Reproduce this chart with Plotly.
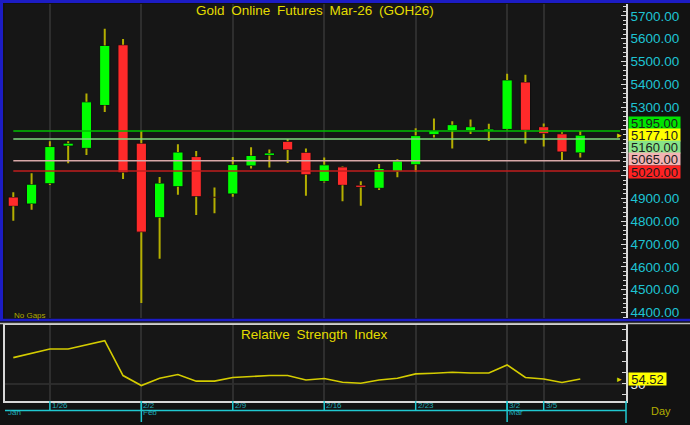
import plotly.graph_objects as go

# ---------------- data ----------------
opens = [4906, 4875, 4964, 5129, 5119, 5307, 5573, 5142, 4815, 4951, 5083, 4907, 4919, 5042, 5088, 5150,
         5102, 4974, 5038, 4958, 4944, 5018, 5047, 5179, 5197, 5197, 5195, 5202, 5410, 5214, 5183, 5099]
highs = [4927, 5010, 5150, 5150, 5359, 5643, 5598, 5195, 4994, 5137, 5108, 4948, 5081, 5124, 5114, 5160,
         5119, 5079, 5041, 4975, 5050, 5071, 5207, 5250, 5238, 5246, 5227, 5446, 5442, 5228, 5190, 5195]
lows = [4802, 4850, 4959, 5054, 5090, 5278, 4985, 4442, 4635, 4916, 4827, 4835, 4907, 5031, 5035, 5055,
        4911, 4970, 4887, 4868, 4937, 4992, 5016, 5167, 5118, 5182, 5151, 5198, 5140, 5127, 5067, 5079]
closes = [4865, 4962, 5127, 5142, 5323, 5570, 5012, 4752, 4967, 5103, 4907, 4903, 5048, 5088, 5099, 5112,
          5003, 5047, 4957, 4948, 5031, 5064, 5175, 5197, 5223, 5214, 5204, 5419, 5198, 5183, 5103, 5177.10]
rsi = [74.0, 78.0, 81.8, 81.8, 85.5, 89.5, 57.6, 48.5, 55.2, 58.5, 52.5, 52.5, 55.8, 57.0, 57.6, 57.6,
       53.6, 54.9, 51.5, 50.6, 53.6, 55.2, 59.1, 59.7, 60.6, 60.0, 60.0, 67.3, 55.8, 54.5, 51.3, 54.52]

week_labels = ["1/26", "2/2", "2/9", "2/16", "2/23", "3/2", "3/5"]
week_bars = [2, 7, 12, 17, 22, 27, 29]
month_labels = ["Jan", "Feb", "Mar"]
month_bars = [0, 7, 27]

level_values = [5195, 5160, 5065, 5020]
level_colors = ["#00c000", "#7fd87f", "#d8a8a8", "#c01e1e"]
box_values = [5195, closes[-1], 5160, 5065, 5020]
box_colors = ["#00e400", "#ffff00", "#88e488", "#f2b4b4", "#ff2222"]

price_ticks = list(range(4400, 5701, 100))
hidden_price_labels = [5000, 5100, 5200]   # covered by the value boxes in the reference
rsi_ticks = list(range(40, 101, 10))

# ---------------- helpers ----------------
W, H = 690, 425


def py(p):
    return 1 - p / H


def pxx(p):
    return p / W


bars = list(range(len(closes)))
fig = go.Figure()

# bodies
base = [min(o, c) for o, c in zip(opens, closes)]
height = [max(abs(c - o), 4) for o, c in zip(opens, closes)]
colors = ["#00ff00" if c >= o else "#ff2a2a" for o, c in zip(opens, closes)]
fig.add_trace(go.Bar(x=bars, y=height, base=base, width=0.56,
                     marker=dict(color=colors, line=dict(color="#101010", width=1)),
                     xaxis="x", yaxis="y", hoverinfo="skip", showlegend=False))

# wicks (upper and lower segments, outside the bodies)
wx, wy = [], []
for i, (o, h, l, c) in enumerate(zip(opens, highs, lows, closes)):
    top, bot = max(o, c), min(o, c)
    if h > top:
        wx += [i, i, None]
        wy += [h, top, None]
    if l < bot:
        wx += [i, i, None]
        wy += [bot, l, None]
fig.add_trace(go.Scatter(x=wx, y=wy, mode="lines", line=dict(color="#b4ae00", width=2),
                         xaxis="x", yaxis="y", hoverinfo="skip", showlegend=False))

# RSI
fig.add_trace(go.Scatter(x=bars, y=rsi, mode="lines", line=dict(color="#d4cc00", width=1.6),
                         xaxis="x2", yaxis="y2", hoverinfo="skip", showlegend=False))

xr = [-0.454, 33.5]
dom_x = [pxx(5), pxx(626)]
grid_c = "#2e2e2e"
axis_c = "#d8d8d8"
cyan = "#1ec4d4"
FONT = "Arial, Liberation Sans"

fig.update_layout(
    width=W, height=H, autosize=False,
    margin=dict(l=0, r=0, t=0, b=0),
    paper_bgcolor="#121212", plot_bgcolor="#161616",
    showlegend=False,
    font=dict(family=FONT, color=cyan),
    xaxis=dict(domain=dom_x, range=xr, anchor="y", tickmode="array", tickvals=week_bars,
               showticklabels=False, showgrid=True, gridcolor=grid_c, gridwidth=1.5,
               zeroline=False, showline=False, ticks=""),
    xaxis2=dict(domain=dom_x, range=xr, anchor="y2", matches="x", tickmode="array", tickvals=week_bars,
                showticklabels=False, showgrid=True, gridcolor=grid_c, gridwidth=1.5,
                zeroline=False, showline=True, linecolor=axis_c, linewidth=1.5, mirror=True, ticks=""),
    yaxis=dict(domain=[py(320), py(4)], range=[4373.6, 5751.7], anchor="x", side="right",
               tickmode="array", tickvals=price_ticks,
               ticktext=["" if v in hidden_price_labels else f"{v:.2f}" for v in price_ticks],
               tickfont=dict(size=13.5, color=cyan, family=FONT),
               ticks="inside", ticklen=5, tickcolor=axis_c, showline=True, linecolor=axis_c,
               linewidth=1.5, showgrid=False, zeroline=False,
               minor=dict(tickmode="linear", tick0=4400, dtick=20, ticks="inside", ticklen=3,
                          tickcolor=axis_c, showgrid=False)),
    yaxis3=dict(overlaying="y", anchor="x", side="left", range=[4373.6, 5751.7],
                tickmode="linear", tick0=4400, dtick=200, showticklabels=False,
                ticks="inside", ticklen=4, tickcolor=axis_c, showline=True, linecolor=axis_c,
                linewidth=1.5, showgrid=True, gridcolor=grid_c, gridwidth=1.5, zeroline=False,
                minor=dict(tickmode="linear", tick0=4400, dtick=20, ticks="inside", ticklen=3,
                           tickcolor=axis_c, showgrid=False)),
    yaxis2=dict(domain=[py(403), py(327)], range=[34.27, 103.36], anchor="x2", side="right",
                tickmode="array", tickvals=rsi_ticks,
                ticktext=["50" if v == 50 else "" for v in rsi_ticks],
                tickfont=dict(size=13.5, color="#e8e8f0", family=FONT),
                ticks="inside", ticklen=4, tickcolor=axis_c, showline=True, linecolor=axis_c,
                linewidth=1.5, mirror=True, showgrid=False, zeroline=False),
)

shapes = []
# RSI midline
shapes.append(dict(type="line", xref="x2 domain", yref="y2", x0=0, x1=1, y0=50, y1=50,
                   line=dict(color="#333333", width=1.5), layer="below"))
# level lines
for v, c in zip(level_values, level_colors):
    shapes.append(dict(type="line", xref="x", yref="y", x0=0, x1=33.17, y0=v, y1=v,
                       line=dict(color=c, width=1.5), layer="above"))
# frame
blue = "#1c1cc4"
shapes.append(dict(type="line", xref="paper", yref="paper", x0=0, x1=1, y0=py(1.5), y1=py(1.5),
                   line=dict(color=blue, width=3)))
shapes.append(dict(type="line", xref="paper", yref="paper", x0=pxx(1.5), x1=pxx(1.5), y0=py(0), y1=py(322),
                   line=dict(color=blue, width=3)))
shapes.append(dict(type="line", xref="paper", yref="paper", x0=0, x1=1, y0=py(321.5), y1=py(321.5),
                   line=dict(color=blue, width=2.5)))
shapes.append(dict(type="line", xref="paper", yref="paper", x0=0, x1=1, y0=py(325), y1=py(325),
                   line=dict(color="#b8b8b8", width=1.5)))
# date axis
dcyan = "#20c8d0"
shapes.append(dict(type="line", xref="paper", yref="paper", x0=pxx(5), x1=pxx(626), y0=py(412.5), y1=py(412.5),
                   line=dict(color=dcyan, width=1.5)))
shapes.append(dict(type="line", xref="paper", yref="paper", x0=pxx(626), x1=pxx(626), y0=py(403), y1=py(425),
                   line=dict(color=dcyan, width=1.5)))
for b in week_bars:
    shapes.append(dict(type="line", xref="x2", yref="paper", x0=b, x1=b, y0=py(403), y1=py(412),
                       line=dict(color=dcyan, width=1.5)))
for b in month_bars[1:]:
    shapes.append(dict(type="line", xref="x2", yref="paper", x0=b, x1=b, y0=py(403), y1=py(424),
                       line=dict(color=dcyan, width=1.5)))
fig.update_layout(shapes=shapes)

ann = []
yellow = "#e4dc00"
ann.append(dict(text="Gold\u2002Online\u2002Futures\u2002Mar-26\u2002(GOH26)", xref="paper", yref="paper",
                x=pxx(315), y=py(11), xanchor="center", yanchor="middle", showarrow=False,
                font=dict(size=13.5, color=yellow, family=FONT)))
ann.append(dict(text="Relative\u2002Strength\u2002Index", xref="paper", yref="paper",
                x=pxx(314), y=py(336), xanchor="center", yanchor="middle", showarrow=False,
                font=dict(size=13.5, color=yellow, family=FONT)))
ann.append(dict(text="No Gaps", xref="paper", yref="paper", x=pxx(13), y=py(317),
                xanchor="left", yanchor="middle", showarrow=False, borderpad=0,
                font=dict(size=8, color="#b0a800", family=FONT)))
ann.append(dict(text="Day", xref="paper", yref="paper", x=pxx(661), y=py(413),
                xanchor="center", yanchor="middle", showarrow=False,
                font=dict(size=11, color="#b4ae00", family=FONT)))
# value boxes
box_centers = [123.5, 135.5, 147.5, 160, 172.5]
for v, c, yc in zip(box_values, box_colors, box_centers):
    ann.append(dict(text=f"{v:.2f}", xref="paper", yref="paper", x=pxx(627.5), y=py(yc),
                    xanchor="left", yanchor="middle", showarrow=False, bgcolor=c,
                    width=51, height=12, borderpad=0, align="center",
                    font=dict(size=13, color="#1c1c1c", family=FONT)))
ann.append(dict(text=f"{rsi[-1]:.2f}", xref="paper", yref="paper", x=pxx(627.5), y=py(380.5),
                xanchor="left", yanchor="middle", showarrow=False, bgcolor="#ffff00",
                width=37, height=12, borderpad=0, align="center",
                font=dict(size=13, color="#1c1c1c", family=FONT)))
# last-value arrows
ann.append(dict(text="\u25B8", xref="x domain", yref="y", x=0.99, y=closes[-1], showarrow=False,
                xanchor="center", yanchor="middle", font=dict(size=9, color="#d8d000")))
ann.append(dict(text="\u25B8", xref="x2 domain", yref="y2", x=0.99, y=rsi[-1], showarrow=False,
                xanchor="center", yanchor="middle", font=dict(size=9, color="#d8d000")))
# date labels
for lab, b in zip(week_labels, week_bars):
    ann.append(dict(text=lab, xref="x2", yref="paper", x=b, y=py(407), xanchor="left", yanchor="middle",
                    xshift=1, showarrow=False, borderpad=0,
                    font=dict(size=8, color="#20aab6", family=FONT)))
for lab, b in zip(month_labels, month_bars):
    ann.append(dict(text=lab, xref="x2", yref="paper", x=b, y=py(419.5), xanchor="left" if b else "center",
                    xshift=1, showarrow=False, borderpad=0,
                    font=dict(size=8, color="#20aab6", family=FONT)))
fig.update_layout(annotations=ann)

fig.write_html("out.html", config={"displayModeBar": False},
               post_script="document.body.style.margin='0';document.body.style.background='#121212';")
